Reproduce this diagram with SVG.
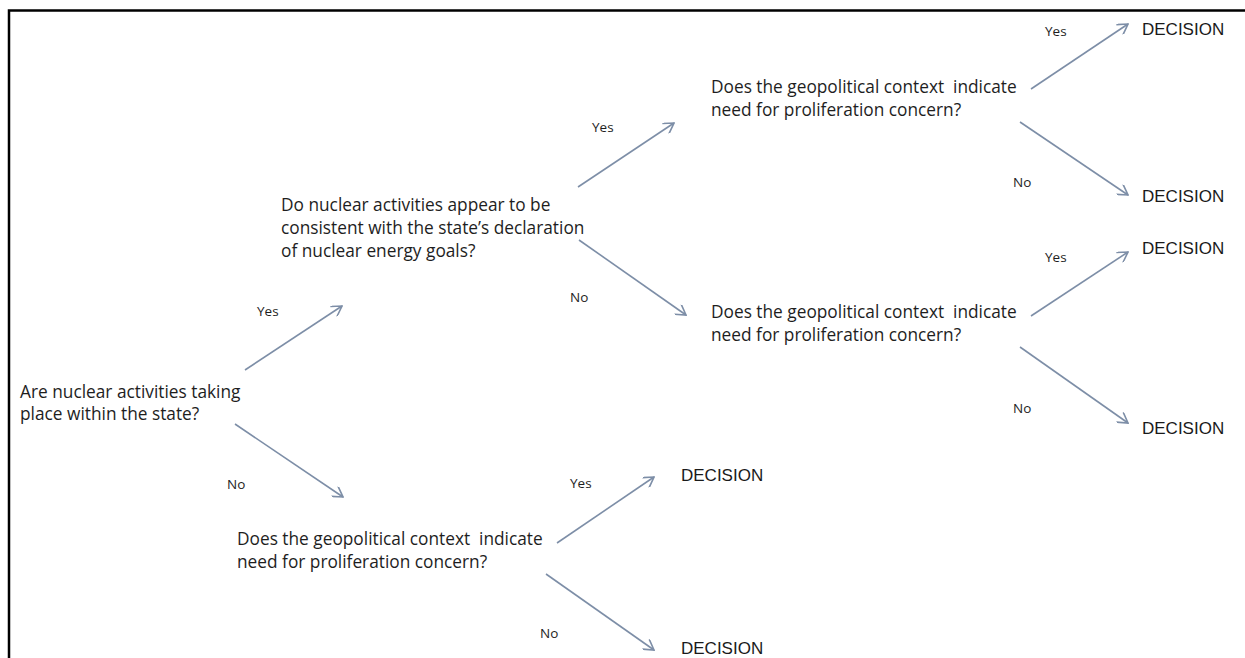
<svg xmlns="http://www.w3.org/2000/svg" width="1245" height="658" viewBox="0 0 1245 658">
  <style>
    .q { font-family: "Open Sans", "Noto Sans", sans-serif; font-size: 17.3px; fill: #1e1e1e; }
    .lbl { font-family: "Open Sans", "Noto Sans", sans-serif; font-size: 13.5px; fill: #1e1e1e; }
    .dec { font-family: "Liberation Sans", Arial, sans-serif; font-size: 17px; fill: #1a1a1a; }
    .conn { stroke: #7d8ea7; stroke-width: 1.6; fill: none; marker-end: url(#arrow); }
  </style>
  <defs>
    <marker id="arrow" viewBox="0 0 12 12" refX="11" refY="6" markerWidth="12" markerHeight="12" markerUnits="userSpaceOnUse" orient="auto">
      <path d="M1,0 L11,6 L1,12" fill="none" stroke="#7d8ea7" stroke-width="1.6"/>
    </marker>
  </defs>
  <rect width="1245" height="658" fill="#ffffff"/>
  <path d="M9,658 V10.5 H1245" fill="none" stroke="#000000" stroke-width="2.5"/>

  <g id="connectors">
    <line class="conn" x1="245" y1="370" x2="342" y2="306"/>
    <line class="conn" x1="235" y1="424" x2="343" y2="497"/>
    <line class="conn" x1="578" y1="187" x2="674" y2="123"/>
    <line class="conn" x1="579" y1="240" x2="686" y2="315"/>
    <line class="conn" x1="1031" y1="89" x2="1128" y2="24"/>
    <line class="conn" x1="1020" y1="122" x2="1128" y2="195"/>
    <line class="conn" x1="1031" y1="316" x2="1128" y2="252"/>
    <line class="conn" x1="1020" y1="347" x2="1128" y2="423"/>
    <line class="conn" x1="557" y1="543" x2="654" y2="477"/>
    <line class="conn" x1="546" y1="574" x2="654" y2="650"/>
  </g>

  <g id="edge-labels">
    <text class="lbl" x="257" y="316">Yes</text>
    <text class="lbl" x="227" y="489">No</text>
    <text class="lbl" x="592" y="132">Yes</text>
    <text class="lbl" x="570" y="302">No</text>
    <text class="lbl" x="1045" y="36">Yes</text>
    <text class="lbl" x="1013" y="187">No</text>
    <text class="lbl" x="1045" y="262">Yes</text>
    <text class="lbl" x="1013" y="413">No</text>
    <text class="lbl" x="570" y="488">Yes</text>
    <text class="lbl" x="540" y="638">No</text>
  </g>

  <g id="q-root">
    <text class="q" x="20" y="398">Are nuclear activities taking</text>
    <text class="q" x="20" y="420">place within the state?</text>
  </g>
  <g id="q-consistent">
    <text class="q" x="281" y="211">Do nuclear activities appear to be</text>
    <text class="q" x="281" y="234">consistent with the state’s declaration</text>
    <text class="q" x="281" y="257">of nuclear energy goals?</text>
  </g>
  <g id="q-geo-top">
    <text class="q" x="711" y="93" xml:space="preserve">Does the geopolitical context  indicate</text>
    <text class="q" x="711" y="116">need for proliferation concern?</text>
  </g>
  <g id="q-geo-mid">
    <text class="q" x="711" y="318" xml:space="preserve">Does the geopolitical context  indicate</text>
    <text class="q" x="711" y="341">need for proliferation concern?</text>
  </g>
  <g id="q-geo-bottom">
    <text class="q" x="237" y="545" xml:space="preserve">Does the geopolitical context  indicate</text>
    <text class="q" x="237" y="568">need for proliferation concern?</text>
  </g>

  <g id="decision-1"><text class="dec" x="1142" y="35">DECISION</text></g>
  <g id="decision-2"><text class="dec" x="1142" y="202">DECISION</text></g>
  <g id="decision-3"><text class="dec" x="1142" y="254">DECISION</text></g>
  <g id="decision-4"><text class="dec" x="1142" y="434">DECISION</text></g>
  <g id="decision-5"><text class="dec" x="681" y="481">DECISION</text></g>
  <g id="decision-6"><text class="dec" x="681" y="654">DECISION</text></g>
</svg>
